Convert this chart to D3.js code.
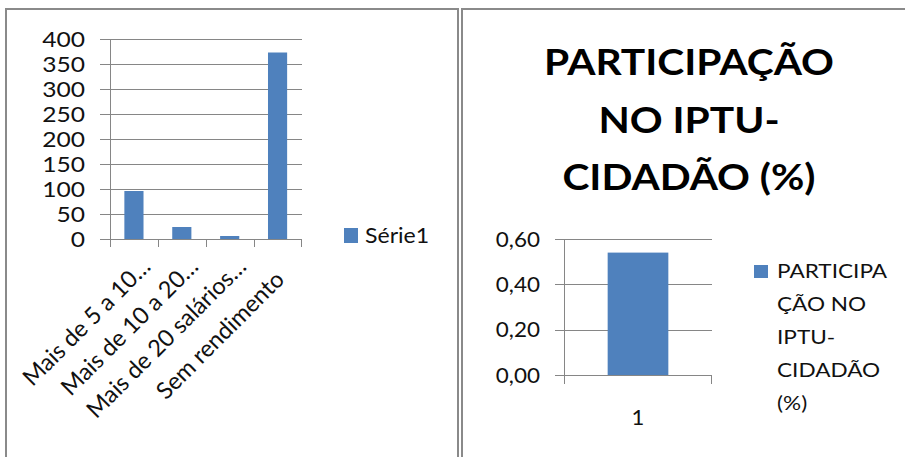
<!DOCTYPE html>
<html>
<head>
  <meta charset="utf-8">
  <title>Participação no IPTU</title>
  <script src="https://cdn.jsdelivr.net/npm/d3@7"></script>
  <style>
    body { margin: 0; background: #fff; }
    svg { display: block; font-family: Lato, "Open Sans", sans-serif; }
    .grid line { stroke: #868686; stroke-width: 1; shape-rendering: crispEdges; }
    .lbl { fill: #111; }
  </style>
</head>
<body>
<svg id="chart" width="905" height="457"></svg>
<script>
// left chart data
var categories = ['Mais de 5 a 10…', 'Mais de 10 a 20…', 'Mais de 20 salários…', 'Sem rendimento'];
var values = [96, 24, 6, 373];
var seriesName = 'Série1';
var leftTicks = [0, 50, 100, 150, 200, 250, 300, 350, 400];

// right chart data
var titleLines = ['PARTICIPAÇÃO', 'NO IPTU-', 'CIDADÃO (%)'];
var categories2 = ['1'];
var values2 = [0.54];
var seriesName2 = ['PARTICIPA', 'ÇÃO NO', 'IPTU-', 'CIDADÃO', '(%)'];
var rightTicks = [0, 0.2, 0.4, 0.6];

var barColor = '#4f81bd';
var sx = 1.1; // the source text is a bit wider than Lato
var svg = d3.select('#chart');

// put text at (x,y), stretched horizontally
function place(x, y, k) {
  return 'translate(' + x + ',' + y + ') scale(' + (k || sx) + ',1)';
}

svg.append('rect').attr('width', 905).attr('height', 457).attr('fill', '#fff');

// panel frames
svg.append('rect').attr('x', 6).attr('y', 9).attr('width', 452).attr('height', 470)
  .attr('fill', 'none').attr('stroke', '#8a8a8a').attr('stroke-width', 2);
svg.append('rect').attr('x', 462).attr('y', 9).attr('width', 460).attr('height', 470)
  .attr('fill', 'none').attr('stroke', '#8a8a8a').attr('stroke-width', 2);

// ---- left chart ----
var y1 = d3.scaleLinear().domain([0, 400]).range([239, 39]);
var x1 = d3.scaleBand().domain(categories).range([110, 301.5]).padding(0);
var g1 = svg.append('g');

var grid1 = g1.append('g').attr('class', 'grid');
grid1.selectAll('line.h').data(leftTicks).enter().append('line')
  .attr('x1', 100).attr('x2', 301.5)
  .attr('y1', function(d) { return Math.round(y1(d)) + 0.5; })
  .attr('y2', function(d) { return Math.round(y1(d)) + 0.5; });
grid1.append('line').attr('x1', 110.5).attr('x2', 110.5).attr('y1', 39).attr('y2', 247);
grid1.selectAll('line.t').data(categories.slice(1)).enter().append('line')
  .attr('x1', function(d) { return Math.round(x1(d)) + 0.5; })
  .attr('x2', function(d) { return Math.round(x1(d)) + 0.5; })
  .attr('y1', 239).attr('y2', 247);
grid1.append('line').attr('x1', 301.5).attr('x2', 301.5).attr('y1', 239).attr('y2', 247);

g1.selectAll('rect.bar').data(values).enter().append('rect')
  .attr('fill', barColor)
  .attr('x', function(d, i) { return x1(categories[i]) + x1.bandwidth() * 0.3; })
  .attr('width', x1.bandwidth() * 0.4)
  .attr('y', function(d) { return y1(d); })
  .attr('height', function(d) { return y1(0) - y1(d); });

g1.selectAll('text.yl').data(leftTicks).enter().append('text')
  .attr('class', 'lbl')
  .attr('transform', function(d) { return place(85, y1(d) + 8, 1.12); })
  .attr('text-anchor', 'end').attr('font-size', 22)
  .text(function(d) { return d; });

// rotated category labels (truncated ones sit a bit higher/right)
g1.selectAll('text.xl').data(categories).enter().append('text')
  .attr('class', 'lbl')
  .attr('font-size', 23.5)
  .attr('text-anchor', 'end')
  .attr('transform', function(d) {
    var cx = x1(d) + x1.bandwidth() / 2;
    var cut = d.slice(-1) === '…';
    return 'translate(' + (cx + (cut ? 18 : 8)) + ',' + (cut ? 268 : 281) + ') rotate(-45)';
  })
  .text(function(d) { return d; });

g1.append('rect').attr('x', 344).attr('y', 228).attr('width', 14).attr('height', 15).attr('fill', barColor);
g1.append('text').attr('class', 'lbl').attr('transform', place(365, 243, 1.05))
  .attr('font-size', 22).text(seriesName);

// ---- right chart ----
var g2 = svg.append('g');
g2.selectAll('text.title').data(titleLines).enter().append('text')
  .attr('transform', function(d, i) { return place(689, 75 + i * 57.5, 1.1); })
  .attr('text-anchor', 'middle').attr('font-weight', 'bold').attr('font-size', 37)
  .attr('fill', '#000')
  .text(function(d) { return d; });

var y2 = d3.scaleLinear().domain([0, 0.6]).range([375, 239]);
var x2 = d3.scaleBand().domain(categories2).range([564, 712]).padding(0);
var fmt = function(v) { return d3.format('.2f')(v).replace('.', ','); };

var grid2 = g2.append('g').attr('class', 'grid');
grid2.selectAll('line.h').data(rightTicks).enter().append('line')
  .attr('x1', 555).attr('x2', 712)
  .attr('y1', function(d) { return Math.round(y2(d)) + 0.5; })
  .attr('y2', function(d) { return Math.round(y2(d)) + 0.5; });
grid2.append('line').attr('x1', 564.5).attr('x2', 564.5).attr('y1', 239).attr('y2', 384);
grid2.append('line').attr('x1', 711.5).attr('x2', 711.5).attr('y1', 375).attr('y2', 384);

g2.selectAll('rect.bar').data(values2).enter().append('rect')
  .attr('fill', barColor)
  .attr('x', function(d, i) { return x2(categories2[i]) + x2.bandwidth() * 0.295; })
  .attr('width', x2.bandwidth() * 0.41)
  .attr('y', function(d) { return y2(d); })
  .attr('height', function(d) { return y2(0) - y2(d); });

g2.selectAll('text.yl').data(rightTicks).enter().append('text')
  .attr('class', 'lbl')
  .attr('transform', function(d) { return place(540, y2(d) + 7.5, 1.07); })
  .attr('text-anchor', 'end').attr('font-size', 21)
  .text(fmt);

g2.selectAll('text.xl').data(categories2).enter().append('text')
  .attr('class', 'lbl')
  .attr('transform', function(d) { return place(x2(d) + x2.bandwidth() / 2, 425, 1.05); })
  .attr('text-anchor', 'middle').attr('font-size', 21)
  .text(function(d) { return d; });

g2.append('rect').attr('x', 754).attr('y', 265).attr('width', 14).attr('height', 13).attr('fill', barColor);
g2.selectAll('text.leg').data(seriesName2).enter().append('text')
  .attr('class', 'lbl')
  .attr('transform', function(d, i) { return place(777, 278 + i * 33, 1.13); })
  .attr('font-size', 20)
  .text(function(d) { return d; });
</script>
</body>
</html>
